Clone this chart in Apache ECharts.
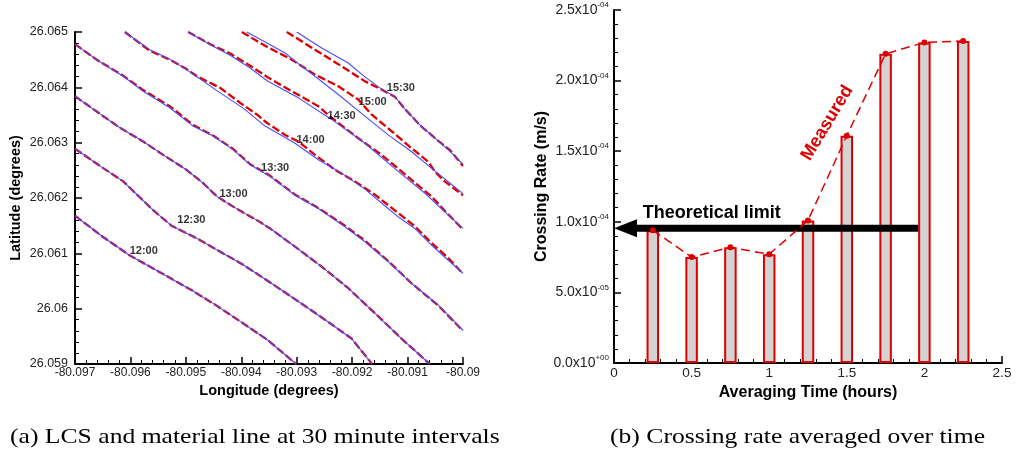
<!DOCTYPE html>
<html>
<head>
<meta charset="utf-8">
<script src="https://cdn.jsdelivr.net/npm/echarts@6.0.0/dist/echarts.min.js"></script>
<style>
  html, body { margin: 0; padding: 0; background: #fff; }
  #chart { width: 1019px; height: 459px; }
</style>
</head>
<body>
<div id="chart"></div>
<script>
// ---------- Panel (a): LCS (red, dashed) and material line (blue) every 30 minutes, [longitude, latitude] ----------
const lcs1200 = [[-80.09700,26.06168],[-80.09650,26.06130],[-80.09601,26.06096],[-80.09547,26.06066],[-80.09487,26.06032],[-80.09444,26.06005],[-80.09402,26.05977],[-80.09352,26.05943],[-80.09301,26.05900]];
const lcs1230 = [[-80.09700,26.06289],[-80.09649,26.06254],[-80.09613,26.06230],[-80.09587,26.06205],[-80.09559,26.06178],[-80.09526,26.06150],[-80.09480,26.06127],[-80.09438,26.06103],[-80.09396,26.06079],[-80.09352,26.06050],[-80.09297,26.06013],[-80.09249,26.05980],[-80.09201,26.05946],[-80.09164,26.05900]];
const lcs1300 = [[-80.09700,26.06384],[-80.09655,26.06352],[-80.09619,26.06327],[-80.09577,26.06302],[-80.09541,26.06278],[-80.09499,26.06251],[-80.09469,26.06227],[-80.09444,26.06203],[-80.09414,26.06184],[-80.09372,26.06160],[-80.09348,26.06145],[-80.09303,26.06112],[-80.09255,26.06076],[-80.09207,26.06037],[-80.09159,26.05992],[-80.09111,26.05946],[-80.09060,26.05900]];
const lcs1330 = [[-80.09700,26.06478],[-80.09661,26.06450],[-80.09613,26.06421],[-80.09577,26.06395],[-80.09529,26.06366],[-80.09487,26.06332],[-80.09451,26.06313],[-80.09414,26.06288],[-80.09384,26.06261],[-80.09348,26.06240],[-80.09303,26.06206],[-80.09261,26.06182],[-80.09213,26.06150],[-80.09177,26.06123],[-80.09135,26.06086],[-80.09093,26.06046],[-80.09045,26.06006],[-80.09000,26.05960]];
const lcs1400 = [[-80.09610,26.06500],[-80.09565,26.06466],[-80.09529,26.06450],[-80.09499,26.06433],[-80.09480,26.06420],[-80.09438,26.06399],[-80.09402,26.06372],[-80.09372,26.06351],[-80.09354,26.06336],[-80.09321,26.06314],[-80.09297,26.06302],[-80.09267,26.06278],[-80.09231,26.06251],[-80.09195,26.06230],[-80.09159,26.06206],[-80.09117,26.06173],[-80.09087,26.06149],[-80.09057,26.06119],[-80.09027,26.06092],[-80.09000,26.06063]];
const lcs1430 = [[-80.09496,26.06500],[-80.09456,26.06478],[-80.09420,26.06461],[-80.09384,26.06439],[-80.09352,26.06418],[-80.09309,26.06393],[-80.09261,26.06366],[-80.09237,26.06345],[-80.09189,26.06308],[-80.09147,26.06278],[-80.09111,26.06248],[-80.09075,26.06218],[-80.09057,26.06203],[-80.09033,26.06177],[-80.09000,26.06143]];
const lcs1500 = [[-80.09399,26.06500],[-80.09357,26.06475],[-80.09309,26.06450],[-80.09267,26.06423],[-80.09225,26.06402],[-80.09189,26.06378],[-80.09165,26.06351],[-80.09129,26.06321],[-80.09093,26.06290],[-80.09063,26.06266],[-80.09051,26.06248],[-80.09033,26.06230],[-80.09000,26.06205]];
const lcs1530 = [[-80.09318,26.06500],[-80.09267,26.06468],[-80.09219,26.06438],[-80.09177,26.06411],[-80.09147,26.06396],[-80.09123,26.06383],[-80.09105,26.06361],[-80.09078,26.06332],[-80.09047,26.06305],[-80.09023,26.06286],[-80.09000,26.06258]];

// up to 13:00 the material line lies on top of the LCS
const mat1200 = lcs1200;
const mat1230 = lcs1230;
const mat1300 = lcs1300;
const mat1330 = [[-80.09700,26.06478],[-80.09661,26.06450],[-80.09613,26.06420],[-80.09577,26.06393],[-80.09529,26.06363],[-80.09487,26.06330],[-80.09451,26.06312],[-80.09414,26.06287],[-80.09384,26.06260],[-80.09348,26.06239],[-80.09303,26.06205],[-80.09261,26.06181],[-80.09213,26.06148],[-80.09177,26.06121],[-80.09135,26.06085],[-80.09093,26.06046],[-80.09045,26.06007],[-80.09000,26.05961]];
const mat1400 = [[-80.09610,26.06500],[-80.09565,26.06468],[-80.09529,26.06451],[-80.09499,26.06432],[-80.09480,26.06419],[-80.09438,26.06390],[-80.09396,26.06362],[-80.09357,26.06330],[-80.09303,26.06299],[-80.09261,26.06269],[-80.09219,26.06245],[-80.09177,26.06216],[-80.09141,26.06186],[-80.09117,26.06166],[-80.09087,26.06145],[-80.09057,26.06115],[-80.09027,26.06088],[-80.09000,26.06064]];
const mat1430 = [[-80.09496,26.06500],[-80.09456,26.06477],[-80.09420,26.06458],[-80.09384,26.06435],[-80.09352,26.06411],[-80.09297,26.06381],[-80.09237,26.06342],[-80.09177,26.06299],[-80.09117,26.06248],[-80.09069,26.06209],[-80.09033,26.06175],[-80.09000,26.06145]];
const mat1500 = [[-80.09390,26.06500],[-80.09357,26.06482],[-80.09321,26.06462],[-80.09291,26.06438],[-80.09267,26.06420],[-80.09225,26.06387],[-80.09177,26.06348],[-80.09135,26.06314],[-80.09093,26.06284],[-80.09057,26.06254],[-80.09020,26.06224],[-80.09000,26.06208]];
const mat1530 = [[-80.09300,26.06500],[-80.09255,26.06471],[-80.09207,26.06444],[-80.09177,26.06419],[-80.09150,26.06399],[-80.09123,26.06383],[-80.09105,26.06361],[-80.09078,26.06332],[-80.09047,26.06305],[-80.09023,26.06284],[-80.09000,26.06261]];

const times      = ['12:00', '12:30', '13:00', '13:30', '14:00', '14:30', '15:00', '15:30'];
const lcsLines   = [lcs1200, lcs1230, lcs1300, lcs1330, lcs1400, lcs1430, lcs1500, lcs1530];
const matLines   = [mat1200, mat1230, mat1300, mat1330, mat1400, mat1430, mat1500, mat1530];
const timeLabelLon = [-80.09576, -80.09490, -80.09414, -80.09339, -80.09275, -80.09219, -80.09163, -80.09112];
const timeLabelLat = [26.06104, 26.06160, 26.06208, 26.06254, 26.06305, 26.06348, 26.06374, 26.06398];

// ---------- Panel (b): crossing rate vs averaging time ----------
const avgHours     = [0.25, 0.5, 0.75, 1.0, 1.25, 1.5, 1.75, 2.0, 2.25];
const crossingRate = [9.4e-5, 7.5e-5, 8.2e-5, 7.7e-5, 1.01e-4, 1.61e-4, 2.19e-4, 2.27e-4, 2.28e-4];
const theoreticalLimit = 9.55e-5;   // m/s
const limitArrowFrom   = 1.96;      // hours, tail of the arrow

const SANS = '"Liberation Sans", Arial, Helvetica, sans-serif';
const SERIF = '"Liberation Serif", "Times New Roman", serif';
const RED = '#dd0000';
const BLUE = '#4b4bff';

function trimFixed(v, d) { return String(parseFloat(v.toFixed(d))); }

function sciLabel(v) {
  let exp = 0, m = 0;
  if (Math.abs(v) > 1e-12) {
    exp = Math.floor(Math.log10(v) + 1e-9);
    m = v / Math.pow(10, exp);
  }
  const sign = exp < 0 ? '-' : '+';
  const e = String(Math.abs(exp)).padStart(2, '0');
  return '{m|' + m.toFixed(1) + 'x10}{e|' + sign + e + '}';
}

const axisCommon = {
  axisLine: { show: true, onZero: false, lineStyle: { color: '#000', width: 2 } },
  axisTick: { show: true, inside: true, length: 7, lineStyle: { color: '#000', width: 1.5 } },
  minorTick: { show: true, splitNumber: 5, length: 4, lineStyle: { color: '#000', width: 1 } },
  splitLine: { show: false },
  minorSplitLine: { show: false }
};

const series = [];
times.forEach((t, i) => {
  series.push({
    name: 'LCS ' + t, type: 'line', xAxisIndex: 0, yAxisIndex: 0,
    data: lcsLines[i], showSymbol: false, symbol: 'none', silent: true, z: 2,
    lineStyle: { color: RED, width: 2.3, type: [8, 3] }
  });
  series.push({
    name: 'Material ' + t, type: 'line', xAxisIndex: 0, yAxisIndex: 0,
    data: matLines[i], showSymbol: false, symbol: 'none', silent: true, z: 3,
    lineStyle: { color: BLUE, width: 1.1 }
  });
});
series.push({
  name: 'times', type: 'scatter', xAxisIndex: 0, yAxisIndex: 0, z: 5,
  symbolSize: 1, itemStyle: { color: 'rgba(0,0,0,0)' }, silent: true,
  data: times.map((t, i) => ({ name: t, value: [timeLabelLon[i], timeLabelLat[i]] })),
  label: { show: true, position: 'inside', formatter: p => p.name,
           fontFamily: SANS, fontWeight: 'bold', fontSize: 11, color: '#000' }
});

const ratePoints = avgHours.map((h, i) => [h, crossingRate[i]]);
series.push({
  name: 'Crossing rate', type: 'bar', xAxisIndex: 1, yAxisIndex: 1, z: 2,
  data: ratePoints, barWidth: 12.5, silent: true,
  itemStyle: { color: '#d3d3d3', borderColor: RED, borderWidth: 2 }
});
series.push({
  name: 'Theoretical limit', type: 'custom', xAxisIndex: 1, yAxisIndex: 1, z: 3, silent: true,
  data: [[limitArrowFrom, theoreticalLimit]],
  renderItem: (params, api) => {
    const tail = api.coord([api.value(0), api.value(1)]);
    const tip = api.coord([0, api.value(1)]);
    const headLen = 23, headHalf = 9, shaft = 7;
    const textAt = api.coord([0.185, api.value(1)]);
    return {
      type: 'group',
      children: [
        { type: 'rect', shape: { x: tip[0] + headLen - 1, y: tail[1] - shaft / 2, width: tail[0] - tip[0] - headLen + 1, height: shaft },
          style: { fill: '#000' } },
        { type: 'polygon', shape: { points: [[tip[0], tip[1]], [tip[0] + headLen, tip[1] - headHalf], [tip[0] + headLen, tip[1] + headHalf]] },
          style: { fill: '#000' } },
        { type: 'text', x: textAt[0], y: textAt[1] - 15,
          style: { text: 'Theoretical limit', fill: '#000', fontFamily: SANS, fontWeight: 'bold', fontSize: 18,
                   align: 'left', verticalAlign: 'middle' } }
      ]
    };
  }
});
series.push({
  name: 'Measured', type: 'line', xAxisIndex: 1, yAxisIndex: 1, z: 4,
  data: ratePoints, symbol: 'circle', symbolSize: 6, showSymbol: true, silent: true,
  lineStyle: { color: RED, width: 1.5, type: [9, 5] },
  itemStyle: { color: RED }
});
series.push({
  name: 'Measured label', type: 'custom', xAxisIndex: 1, yAxisIndex: 1, z: 5, silent: true,
  data: [[1.374, 1.70e-4]],
  renderItem: (params, api) => {
    const p = api.coord([api.value(0), api.value(1)]);
    return {
      type: 'text', x: p[0], y: p[1], rotation: 59 * Math.PI / 180,
      style: { text: 'Measured', fill: RED, fontFamily: SANS, fontWeight: 'bold', fontSize: 18,
               align: 'center', verticalAlign: 'middle' }
    };
  }
});

const option = {
  animation: false,
  backgroundColor: '#fff',
  grid: [
    { left: 75, top: 32, width: 388, height: 332 },
    { left: 614, top: 10, width: 388, height: 353 }
  ],
  xAxis: [
    Object.assign({}, axisCommon, {
      type: 'value', gridIndex: 0, min: -80.097, max: -80.09, interval: 0.001,
      name: 'Longitude (degrees)', nameLocation: 'middle', nameGap: 14,
      nameTextStyle: { fontFamily: SANS, fontWeight: 'bold', fontSize: 14.5, color: '#000' },
      axisLabel: { margin: 3, fontFamily: SANS, fontSize: 12, color: '#222', formatter: v => trimFixed(v, 3),
                   showMinLabel: true, showMaxLabel: true }
    }),
    Object.assign({}, axisCommon, {
      type: 'value', gridIndex: 1, min: 0, max: 2.5, interval: 0.5,
      name: 'Averaging Time (hours)', nameLocation: 'middle', nameGap: 17,
      nameTextStyle: { fontFamily: SANS, fontWeight: 'bold', fontSize: 16, color: '#000' },
      axisLabel: { margin: 3, fontFamily: SANS, fontSize: 13.5, color: '#222', formatter: v => trimFixed(v, 2) }
    })
  ],
  yAxis: [
    Object.assign({}, axisCommon, {
      type: 'value', gridIndex: 0, min: 26.059, max: 26.065, interval: 0.001,
      name: 'Latitude (degrees)', nameLocation: 'middle', nameGap: 52,
      nameTextStyle: { fontFamily: SANS, fontWeight: 'bold', fontSize: 14.5, color: '#000' },
      axisLabel: { margin: 7, fontFamily: SANS, fontSize: 12.5, color: '#222', formatter: v => trimFixed(v, 3) }
    }),
    Object.assign({}, axisCommon, {
      type: 'value', gridIndex: 1, min: 0, max: 2.5e-4, interval: 5e-5,
      name: 'Crossing Rate (m/s)', nameLocation: 'middle', nameGap: 64,
      nameTextStyle: { fontFamily: SANS, fontWeight: 'bold', fontSize: 16, color: '#000' },
      axisLabel: {
        margin: 5, formatter: sciLabel,
        rich: {
          m: { fontFamily: SANS, fontSize: 14, color: '#222', lineHeight: 18 },
          e: { fontFamily: SANS, fontSize: 8, color: '#222', verticalAlign: 'top' }
        }
      }
    })
  ],
  graphic: [
    // sub-figure captions, stretched a little to the width of the typeset originals
    { type: 'text', x: 10, y: 437, scaleX: 1.165,
      style: { text: '(a) LCS and material line at 30 minute intervals', fill: '#000',
               font: '22px ' + SERIF, verticalAlign: 'middle' } },
    { type: 'text', x: 610, y: 437, scaleX: 1.165,
      style: { text: '(b) Crossing rate averaged over time', fill: '#000',
               font: '22px ' + SERIF, verticalAlign: 'middle' } }
  ],
  series: series
};

const chart = echarts.init(document.getElementById('chart'), null, { renderer: 'canvas' });
chart.setOption(option);
</script>
</body>
</html>
